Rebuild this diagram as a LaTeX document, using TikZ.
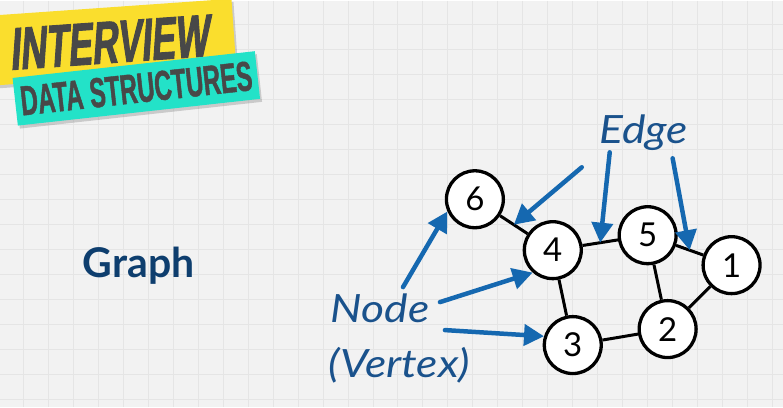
\documentclass[tikz,border=0pt]{standalone}
\usepackage{fontspec}
\setmainfont{Lato}
\newfontfamily\lblfont{Lato}[FakeStretch=1.14]
\newfontfamily\bannerfont{Liberation Sans}[FakeStretch=0.57,FakeBold=1]
\newfontfamily\bannerslant{Liberation Sans}[FakeStretch=0.6,FakeSlant=0.14,FakeBold=1.5]
\usetikzlibrary{arrows.meta,shadows}
\definecolor{paper}  {RGB}{242,242,242}
\definecolor{gridln} {RGB}{229,229,229}
\definecolor{bannery}{RGB}{250,222,45}
\definecolor{bannert}{RGB}{35,226,200}
\definecolor{ink}    {RGB}{72,72,72}
\definecolor{lblue}  {RGB}{26,82,140}
\definecolor{ablue}  {RGB}{21,104,176}
\definecolor{gblue}  {RGB}{14,62,110}

\begin{document}
\begin{tikzpicture}[x=1pt,y=-1pt,
          vtx/.style={circle,draw,line width=3.3pt,fill=white,minimum size=57pt,inner sep=0pt,font=\fontsize{33}{33}\selectfont},
          link/.style={line width=3pt},
          pointer/.style={ablue,line width=4.5pt,line cap=round,-{Triangle[length=20pt,width=21pt]}},
          lbl/.style={lblue,anchor=base west,font=\fontsize{39}{40}\lblfont\itshape},
          banner/.style={inner sep=0pt,text=ink,drop shadow={opacity=0.35,shadow xshift=2pt,shadow yshift=-3pt}}
      ]
        % paper with grid
        \fill[paper] (0,0) rectangle (783,407);
        \foreach \gx in {23,48,...,773} \draw[gridln,line width=1pt] (\gx,0) -- (\gx,407);
        \foreach \gy in {24,49,...,399} \draw[gridln,line width=1pt] (0,\gy) -- (783,\gy);
        \useasboundingbox (0,0) rectangle (783,407);

        % title banners
        \node[banner,rotate=4,fill=bannery,minimum width=252pt,minimum height=70pt] (ivw) at (108,42)
             {\bannerslant\bfseries\fontsize{60}{60}\selectfont INTERVIEW};
        \node[banner,rotate=6.3,fill=bannert,minimum width=244pt,minimum height=48pt] (dst) at (136,88)
             {\bannerfont\bfseries\fontsize{42}{42}\selectfont DATA STRUCTURES};

        \node[gblue,anchor=base west,font=\fontsize{41}{41}\selectfont\bfseries] (ttl) at (79,277) {Graph};

        % labels
        \node[lbl] (edge)   at (596,143) {Edge};
        \node[lbl] (node)   at (327,322) {Node};
        \node[lbl] (vertex) at (325,377) {(Vertex)};

        % graph
        \node[vtx] (n6) at (475,199) {6};
        \node[vtx] (n4) at (553,250) {4};
        \node[vtx] (n5) at (648,235) {5};
        \node[vtx] (n1) at (732,265) {1};
        \node[vtx] (n2) at (668,329) {2};
        \node[vtx] (n3) at (573,345) {3};
        \draw[link] (n6) -- coordinate[midway] (e64) (n4);
        \draw[link] (n4) -- coordinate[midway] (e45) (n5);
        \draw[link] (n5) -- coordinate[midway] (e51) (n1);
        \draw[link] (n4) -- (n3);
        \draw[link] (n5) -- (n2);
        \draw[link] (n1) -- (n2);
        \draw[link] (n3) -- (n2);

        % pointers
        \coordinate (p6) at (403,287);
        \coordinate (p4) at (440,302);
        \coordinate (p3) at (445,330);
        \coordinate (q64) at (582,167);
        \coordinate (q45) at (610,152);
        \coordinate (q51) at (673,158);
        \draw[pointer] (p6) -- (n6.204);
        \draw[pointer] (p4) -- (n4.228);
        \draw[pointer] (p3) -- (n3.163);
        \draw[pointer] (q64) -- (e64);
        \draw[pointer] (q45) -- (e45);
        \draw[pointer] (q51) -- (e51);
      \end{tikzpicture}
\end{document}
